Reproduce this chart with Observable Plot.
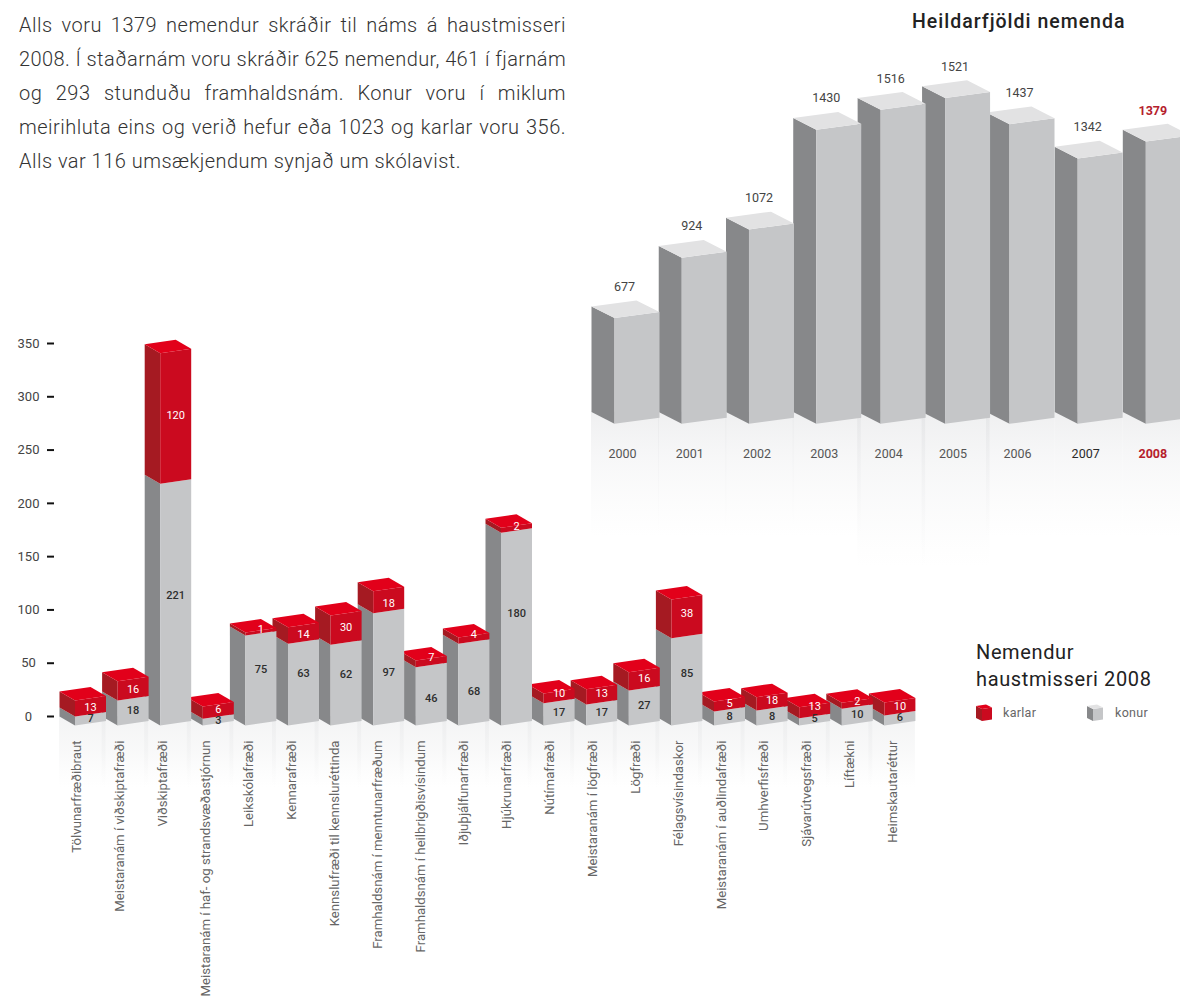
<!DOCTYPE html>
<html lang="is">
<head>
<meta charset="utf-8">
<script src="https://cdn.jsdelivr.net/npm/d3@7"></script>
<script src="https://cdn.jsdelivr.net/npm/@observablehq/plot@0.6"></script>
<style>
  html, body { margin: 0; padding: 0; background: #fff; }
  #page { position: relative; width: 1180px; height: 996px; overflow: hidden; font-family: Roboto, sans-serif; color: #3c3c3c; }
  #page > svg, #page > div > svg { position: absolute; left: 0; }
  .abs { position: absolute; white-space: nowrap; }
  #intro { position: absolute; left: 19px; top: 8px; width: 547px; font-size: 20px; letter-spacing: .48px; font-weight: 300; line-height: 34px; color: #333; }
  #intro div { white-space: nowrap; text-align: justify; text-align-last: justify; }
  #intro div:last-child { text-align-last: left; }
</style>
</head>
<body>
<div id="page">
  <div id="intro">
    <div>Alls voru 1379 nemendur skráðir til náms á haustmisseri</div>
    <div style="letter-spacing:.38px">2008. Í staðarnám voru skráðir 625 nemendur, 461 í fjarnám</div>
    <div>og 293 stunduðu framhaldsnám. Konur voru í miklum</div>
    <div>meirihluta eins og verið hefur eða 1023 og karlar voru 356.</div>
    <div>Alls var 116 umsækjendum synjað um skólavist.</div>
  </div>
  <div class="abs" style="left:912px;top:10px;font-size:19.5px;font-weight:500;letter-spacing:1px;color:#222;line-height:23px">Heildarfjöldi nemenda</div>
  <div class="abs" style="left:976px;top:639px;font-size:20px;font-weight:400;letter-spacing:.62px;color:#222;line-height:26.5px">Nemendur<br>haustmisseri 2008</div>
  <svg style="left:976px;top:703px" width="18" height="18" viewBox="0 0 18 18">
    <polygon points="0,3 6,6 6,18 0,15" fill="#a51a22"/><polygon points="6,6 16,4.5 16,16.5 6,18" fill="#cb0a1f"/><polygon points="0,3 10,1.5 16,4.5 6,6" fill="#e2001a"/>
  </svg>
  <div class="abs" style="left:1003px;top:705px;font-size:12.5px;color:#666;letter-spacing:.3px;line-height:15px">karlar</div>
  <svg style="left:1087px;top:703px" width="18" height="18" viewBox="0 0 18 18">
    <polygon points="0,3 6,6 6,18 0,15" fill="#87888a"/><polygon points="6,6 16,4.5 16,16.5 6,18" fill="#c5c6c8"/><polygon points="0,3 10,1.5 16,4.5 6,6" fill="#e2e2e3"/>
  </svg>
  <div class="abs" style="left:1115px;top:705px;font-size:12.5px;color:#666;letter-spacing:.3px;line-height:15px">konur</div>
</div>
<script>
// ---- Heildarfjöldi nemenda ----
const years = [2000, 2001, 2002, 2003, 2004, 2005, 2006, 2007, 2008];
const totals = [677, 924, 1072, 1430, 1516, 1521, 1437, 1342, 1379];
// Level each drawn block reaches on the picture's own (unlabelled, truncated) scale
const totalLevels = [683, 914, 1022, 1403, 1479, 1524, 1424, 1293, 1358];

// ---- Nemendur haustmisseri 2008 ----
const programmes = [
  "Tölvunarfræðibraut", "Meistaranám í viðskiptafræði", "Viðskiptafræði",
  "Meistaranám í haf- og strandsvæðastjórnun", "Leikskólafræði", "Kennarafræði",
  "Kennslufræði til kennsluréttinda", "Framhaldsnám í menntunarfræðum",
  "Framhaldsnám í heilbrigðisvísindum", "Iðjuþjálfunarfræði", "Hjúkrunarfræði",
  "Nútímafræði", "Meistaranám í lögfræði", "Lögfræði", "Félagsvísindaskor",
  "Meistaranám í auðlindafræði", "Umhverfisfræði", "Sjávarútvegsfræði", "Líftækni",
  "Heimskautaréttur"
];
const konur = [7, 18, 221, 3, 75, 63, 62, 97, 46, 68, 180, 17, 17, 27, 85, 8, 8, 5, 10, 6];
const karlar = [13, 16, 120, 6, 1, 14, 30, 18, 7, 4, 2, 10, 13, 16, 38, 5, 18, 13, 2, 10];
// What the blocks read against the 0–350 axis (the drawing is not strictly to scale)
const konurLevels = [8.4, 23.5, 226.8, 6.3, 84.5, 76.7, 75.7, 105.4, 54.7, 76.7, 180.8, 20.9, 19.7, 32.8, 81.9, 13.1, 14.1, 6.9, 15.7, 9.4];
const stackLevels = [23.5, 41.6, 349.3, 17.8, 87.3, 92.2, 103.2, 126, 61, 82.6, 185.5, 30, 34, 50, 118.2, 22.5, 26.6, 17.2, 21.3, 21.6];
// Axis reading at which each printed number sits
const konurTextAt = [6.6, 14, 122, 5, 52.5, 49, 48, 50, 25, 32, 105, 12.5, 12.5, 18.8, 48.5, 8.4, 8.4, 6.3, 10.3, 7.2];
const karlarTextAt = [17.2, 34, 291, 15, 90, 85.4, 92, 114.8, 63.5, 85, 186.7, 30.3, 29.7, 44.4, 104.8, 20.4, 23.5, 17.8, 22.5, 17.8];

const font = "Roboto, sans-serif";
const GRAY = {front: "#c5c6c8", side: "#87888a", top: "#e2e2e3", edge: "none"};
const RED = {front: "#cb0a1f", side: "#a51a22", top: "#e2001a", edge: "#e8505c"};

// Box faces of a block, as oblique projection in data units
function faces(id, x, lo, hi, pal, g, withTop) {
  const {d, w, e, s} = g;
  const quad = (name, fill, stroke, pts) => pts.map(([px, py]) => ({id: id + name, x: px, y: py, fill, stroke}));
  const out = [
    ...quad("s", pal.side, "none", [[x, lo], [x + d, lo - e], [x + d, hi - e], [x, hi]]),
    ...quad("f", pal.front, "none", [[x + d, lo - e], [x + d + w, lo - e + s], [x + d + w, hi - e + s], [x + d, hi - e]])
  ];
  if (withTop) out.push(...quad("t", pal.top, pal.edge, [[x, hi], [x + d, hi - e], [x + d + w, hi - e + s], [x + w, hi + s]]));
  return out;
}

const defsMark = (id, stops) => () => {
  const defs = d3.create("svg:defs");
  const lg = defs.append("linearGradient").attr("id", id).attr("x1", 0).attr("y1", 0).attr("x2", 0).attr("y2", 1);
  stops.forEach(([o, c, a]) => lg.append("stop").attr("offset", o).attr("stop-color", c).attr("stop-opacity", a));
  return defs.node();
};

// ---------- upper chart ----------
{
  const pxX = 66.4, pxY = 325 / (1521 - 279);
  const g = {d: 23 / pxX, w: 45 / pxX, e: 11.7 / pxY, s: 6 / pxY};
  // The years are not evenly spaced in the drawing
  const slot = d3.scaleLinear().domain([2000, 2003, 2006, 2008]).range([0, 3.038, 5.949, 8.0015]);
  const rows = years.map((year, i) => ({year, i: slot(year), total: totals[i], level: totalLevels[i]}));
  const polys = [...rows].reverse().flatMap(r => faces("y" + r.year, r.i, 279, r.level, GRAY, g, true));
  const isLast = d => d.year === 2008;
  const chart = Plot.plot({
    width: 1180, height: 600, margin: 0,
    style: {background: "transparent", fontFamily: font, overflow: "visible"},
    x: {domain: [-591 / pxX, (1180 - 591) / pxX], range: [0, 1180], axis: null},
    y: {domain: [279, 1521], range: [411.6, 86.6], axis: null},
    marks: [
      defsMark("fadeTop", [[0, "#d9dadc", .42], [.35, "#dcdde0", .24], [1, "#e4e5e6", 0]]),
      Plot.rect(rows, {x1: "i", x2: d => d.i + g.d + g.w, y1: 279, y2: d => 279 - (d.level > 1450 ? 155 : 125) / pxY, fill: "url(#fadeTop)"}),
      Plot.line(polys, {x: "x", y: "y", z: "id", fill: "fill", stroke: "none"}),
      Plot.text(rows.filter(d => !isLast(d)), {x: d => d.i + g.d + 10 / pxX, y: d => d.level + 19.5 / pxY, text: d => String(d.total), fontSize: 12.5, fill: "#444"}),
      Plot.text(rows.filter(isLast), {x: d => d.i + g.d + 7 / pxX, y: d => d.level + 19 / pxY, text: d => String(d.total), fontSize: 12.5, fill: "#b5202c", fontWeight: 700}),
      Plot.text(rows.filter(d => !isLast(d)), {x: d => d.i + g.d + 8 / pxX, y: 279 - 41.4 / pxY, text: d => String(d.year), fontSize: 12.5, fill: d => d.year === 2007 ? "#2a2a2a" : "#555"}),
      Plot.text(rows.filter(isLast), {x: d => d.i + g.d + 7 / pxX, y: 279 - 41.4 / pxY, text: d => String(d.year), fontSize: 12.5, fill: "#b5202c", fontWeight: 700})
    ]
  });
  chart.style.top = "0px";
  document.getElementById("page").appendChild(chart);
}

// ---------- lower chart ----------
{
  const pxX = 42.6, pxY = 373 / 350;
  const g = {d: 15.5 / pxX, w: 31 / pxX, e: 9 / pxY, s: 4.5 / pxY};
  const rows = programmes.map((name, i) => ({
    name, i, konur: konur[i], karlar: karlar[i], mid: konurLevels[i], top: stackLevels[i],
    konurAt: konurTextAt[i], karlarAt: karlarTextAt[i]
  }));
  const polys = [...rows].reverse().flatMap(r => [
    ...faces("g" + r.i, r.i, 0, r.mid, GRAY, g, false),
    ...faces("r" + r.i, r.i, r.mid, r.top, RED, g, true)
  ]);
  const cx = d => d.i + g.d + g.w / 2;
  const chart = Plot.plot({
    width: 1180, height: 666, marginLeft: 54, marginTop: 0, marginRight: 0, marginBottom: 0,
    style: {background: "transparent", fontFamily: font, overflow: "visible"},
    x: {domain: [-59 / pxX, (1180 - 59) / pxX], range: [0, 1180], axis: null},
    y: {domain: [0, 350], range: [386, 13], axis: null},
    marks: [
      defsMark("fadeLow", [[0, "#e2e3e5", .4], [.5, "#e6e7e8", .25], [1, "#eeeeee", 0]]),
      Plot.rect(rows, {x1: "i", x2: d => d.i + g.d + g.w, y1: 0, y2: -72 / pxY, fill: "url(#fadeLow)"}),
      Plot.axisY({ticks: [0, 50, 100, 150, 200, 250, 300, 350], tickSize: 7, tickPadding: 19, strokeWidth: 2,
        stroke: "#111", fill: "#444", textAnchor: "middle", fontSize: 13, label: null, tickFormat: d => String(d)}),
      Plot.line(polys, {x: "x", y: "y", z: "id", fill: "fill", stroke: "none"}),
      Plot.text(rows, {x: cx, y: d => d.konurAt - g.e, text: d => String(d.konur), fontSize: 11, fontWeight: 500, fill: "#2e2e2e"}),
      Plot.text(rows, {x: cx, y: d => d.karlarAt - g.e, text: d => String(d.karlar), fontSize: 11, fontWeight: 400, fill: "#fff"}),
      Plot.text(rows, {x: d => d.i * 1.008 + 17.7 / pxX, y: -24 / pxY, text: "name", rotate: -90, textAnchor: "end", lineAnchor: "middle", fontSize: 13.2, fill: "#666"})
    ]
  });
  chart.style.top = "330px";
  document.getElementById("page").appendChild(chart);
}
</script>
</body>
</html>
